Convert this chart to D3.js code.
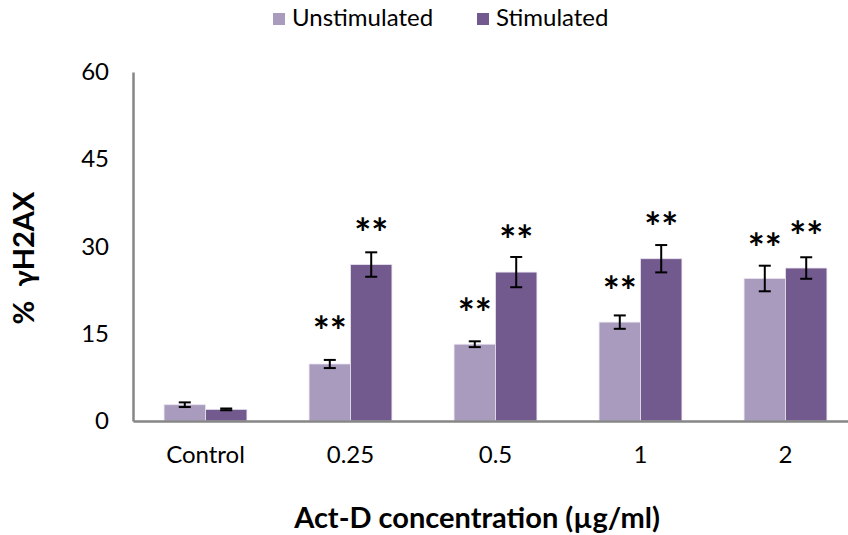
<!DOCTYPE html>
<html>
<head>
<meta charset="utf-8">
<script src="https://cdn.jsdelivr.net/npm/d3@7"></script>
<style>
  body { margin: 0; background: #fff; }
  text { font-family: Lato, "Open Sans", sans-serif; }
</style>
</head>
<body>
<div id="chart-area"></div>
<script>
// data
const categories = ["Control", "0.25", "0.5", "1", "2"];
const seriesNames = ["Unstimulated", "Stimulated"];
const unstimulated = [2.8, 9.8, 13.2, 17.0, 24.5];
const stimulated = [2.0, 26.9, 25.6, 27.9, 26.3];
const unstimulatedErr = [0.4, 0.7, 0.5, 1.15, 2.2];
const stimulatedErr = [0.15, 2.1, 2.6, 2.35, 1.85];
// significance marks ("" = none) and the value height they sit at
const unstimulatedStars = ["", "**", "**", "**", "**"];
const stimulatedStars = ["", "**", "**", "**", "**"];
const unstimulatedStarAt = [0, 14.1, 17.2, 21.0, 28.4];
const stimulatedStarAt = [0, 30.9, 29.7, 32.0, 30.4];
const yTicks = [0, 15, 30, 45, 60];

const colors = ["#a99bbd", "#725a8f"];

const margin = { top: 72, left: 133 };
const width = 725;
const height = 349;

const svg = d3.select("#chart-area")
    .append("svg")
    .attr("width", 848)
    .attr("height", 535);

const g = svg.append("g")
    .attr("transform", `translate(${margin.left}, ${margin.top})`);

const x0 = d3.scaleBand().domain(categories).range([0, width]).padding(0);
const y = d3.scaleLinear().domain([0, 60]).range([height, 0]);

// excel style: gap width 150% of one bar
const bw = x0.bandwidth() / (seriesNames.length + 1.5);
const barX = (c, i) => x0(c) + (x0.bandwidth() - bw * seriesNames.length) / 2 + i * bw;

const rows = [];
categories.forEach((c, k) => {
    rows.push({ c, i: 0, v: unstimulated[k], e: unstimulatedErr[k], s: unstimulatedStars[k], sy: unstimulatedStarAt[k] });
    rows.push({ c, i: 1, v: stimulated[k], e: stimulatedErr[k], s: stimulatedStars[k], sy: stimulatedStarAt[k] });
});

// bars
g.selectAll(".bar")
    .data(rows)
    .join("rect")
    .attr("class", "bar")
    .attr("x", d => barX(d.c, d.i))
    .attr("y", d => y(d.v))
    .attr("width", bw)
    .attr("height", d => y(0) - y(d.v))
    .attr("fill", d => colors[d.i])
    .attr("stroke", "#e9e4ef")
    .attr("stroke-width", 0.8);

// error bars
const err = g.selectAll(".err")
    .data(rows)
    .join("g")
    .attr("class", "err")
    .attr("stroke", "#000")
    .attr("stroke-width", 2);

err.append("line")
    .attr("x1", d => barX(d.c, d.i) + bw / 2)
    .attr("x2", d => barX(d.c, d.i) + bw / 2)
    .attr("y1", d => y(d.v + d.e))
    .attr("y2", d => y(d.v - d.e));

[1, -1].forEach(sign => {
    err.append("line")
        .attr("x1", d => barX(d.c, d.i) + bw / 2 - 6)
        .attr("x2", d => barX(d.c, d.i) + bw / 2 + 6)
        .attr("y1", d => y(d.v + sign * d.e))
        .attr("y2", d => y(d.v + sign * d.e));
});

// significance stars
g.selectAll(".star")
    .data(rows.filter(d => d.s))
    .join("text")
    .attr("class", "star")
    .attr("x", d => barX(d.c, d.i) + bw / 2)
    .attr("y", d => y(d.sy))
    .attr("dy", 7)
    .attr("text-anchor", "middle")
    .attr("font-family", "DejaVu Sans")
    .attr("font-weight", "bold")
    .attr("font-size", 40)
    .text(d => d.s);

// axes
const yAxis = g.append("g")
    .call(d3.axisLeft(y).tickValues(yTicks).tickSize(0).tickPadding(24));
yAxis.select(".domain").attr("stroke", "#868686").attr("stroke-width", 2.5);
yAxis.selectAll("text").attr("font-size", 24).attr("fill", "#000")
    .attr("font-family", "Lato, sans-serif");

const xAxis = g.append("g")
    .attr("transform", `translate(0, ${height})`)
    .call(d3.axisBottom(x0).tickSize(0).tickPadding(25));
xAxis.select(".domain").attr("stroke", "#868686").attr("stroke-width", 2.5);
xAxis.selectAll("text").attr("font-size", 24).attr("fill", "#000")
    .attr("font-family", "Lato, sans-serif");

// axis titles
svg.append("text")
    .attr("x", 477)
    .attr("y", 528)
    .attr("text-anchor", "middle")
    .attr("font-weight", "bold")
    .attr("font-size", 29)
    .text("Act-D concentration (µg/ml)");

svg.append("text")
    .attr("transform", "translate(34, 258) rotate(-90)")
    .attr("text-anchor", "middle")
    .attr("font-weight", "bold")
    .attr("font-size", 29)
    .attr("xml:space", "preserve")
    .text("%  γH2AX");

// legend
const legendX = [273, 477];
const legend = svg.selectAll(".legend")
    .data(seriesNames)
    .join("g")
    .attr("class", "legend")
    .attr("transform", (d, i) => `translate(${legendX[i]}, 13)`);

legend.append("rect")
    .attr("width", 12)
    .attr("height", 12)
    .attr("fill", (d, i) => colors[i]);

legend.append("text")
    .attr("x", 19)
    .attr("y", 13)
    .attr("font-size", 24)
    .text(d => d);
</script>
</body>
</html>
